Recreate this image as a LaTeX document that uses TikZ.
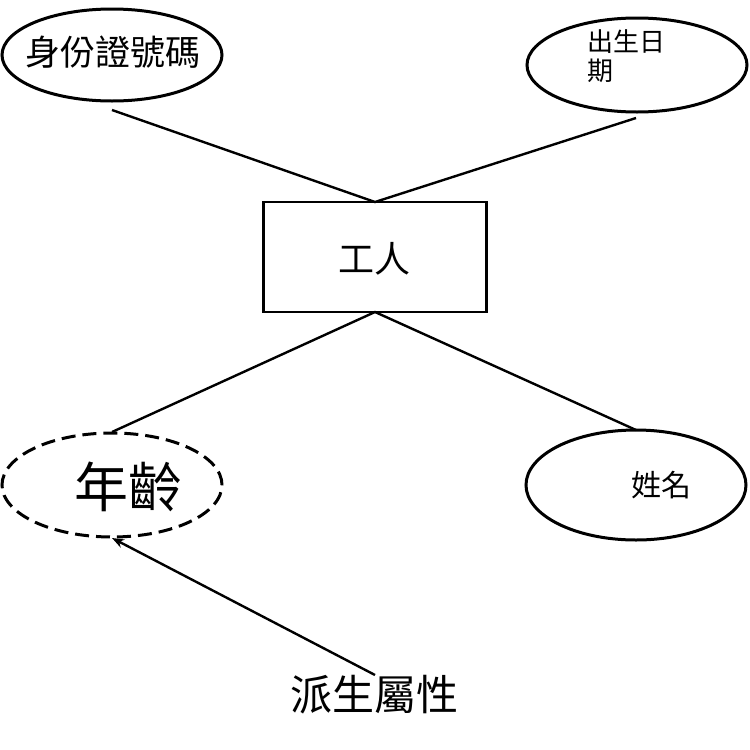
\documentclass[tikz,border=0pt]{standalone}
\usepackage{fontspec}
\setmainfont{Noto Sans CJK TC}
\usetikzlibrary{shapes.geometric,arrows.meta}
\begin{document}
\begin{tikzpicture}[x=1pt,y=-1pt,
  ell/.style={draw,line width=3pt,ellipse,minimum width=220pt,minimum height=92pt,inner sep=0pt},
  ln/.style={line width=2.4pt}]
\useasboundingbox (0,0) rectangle (750,750);
\node[ell] (id) at (112,55) {};
\node[font=\fontsize{35}{37}\selectfont] at (113,52) {身份證號碼};
\node[ell,minimum height=94pt] (birth) at (637,65) {};
\node[font=\fontsize{26}{29}\selectfont,align=left,anchor=north west] at (584,26) {出生日\\期};
\node[draw,line width=2.4pt,minimum width=223pt,minimum height=110pt] (w) at (375,257) {};
\node[font=\fontsize{36}{38}\selectfont] at (374,259) {工人};
\node[ell,dashed,dash pattern=on 14pt off 7pt,minimum height=104pt] (age) at (112,485) {};
\node[font=\fontsize{54}{56}\selectfont] at (128,487) {年齡};
\node[ell,minimum height=110pt] (name) at (636,485) {};
\node[font=\fontsize{30}{32}\selectfont] at (661,485) {姓名};
\node[font=\fontsize{42}{44}\selectfont] (d) at (374,695) {派生屬性};
\coordinate (wt) at (375,202);
\coordinate (wb) at (375,312);
\draw[ln] (112,110) -- (wt) -- (636,118);
\draw[ln] (112,432) -- (wb) -- (636,430);
\draw[ln,-{Stealth[length=12pt,width=9pt]}] (375,675) -- (112,538);
\end{tikzpicture}
\end{document}
